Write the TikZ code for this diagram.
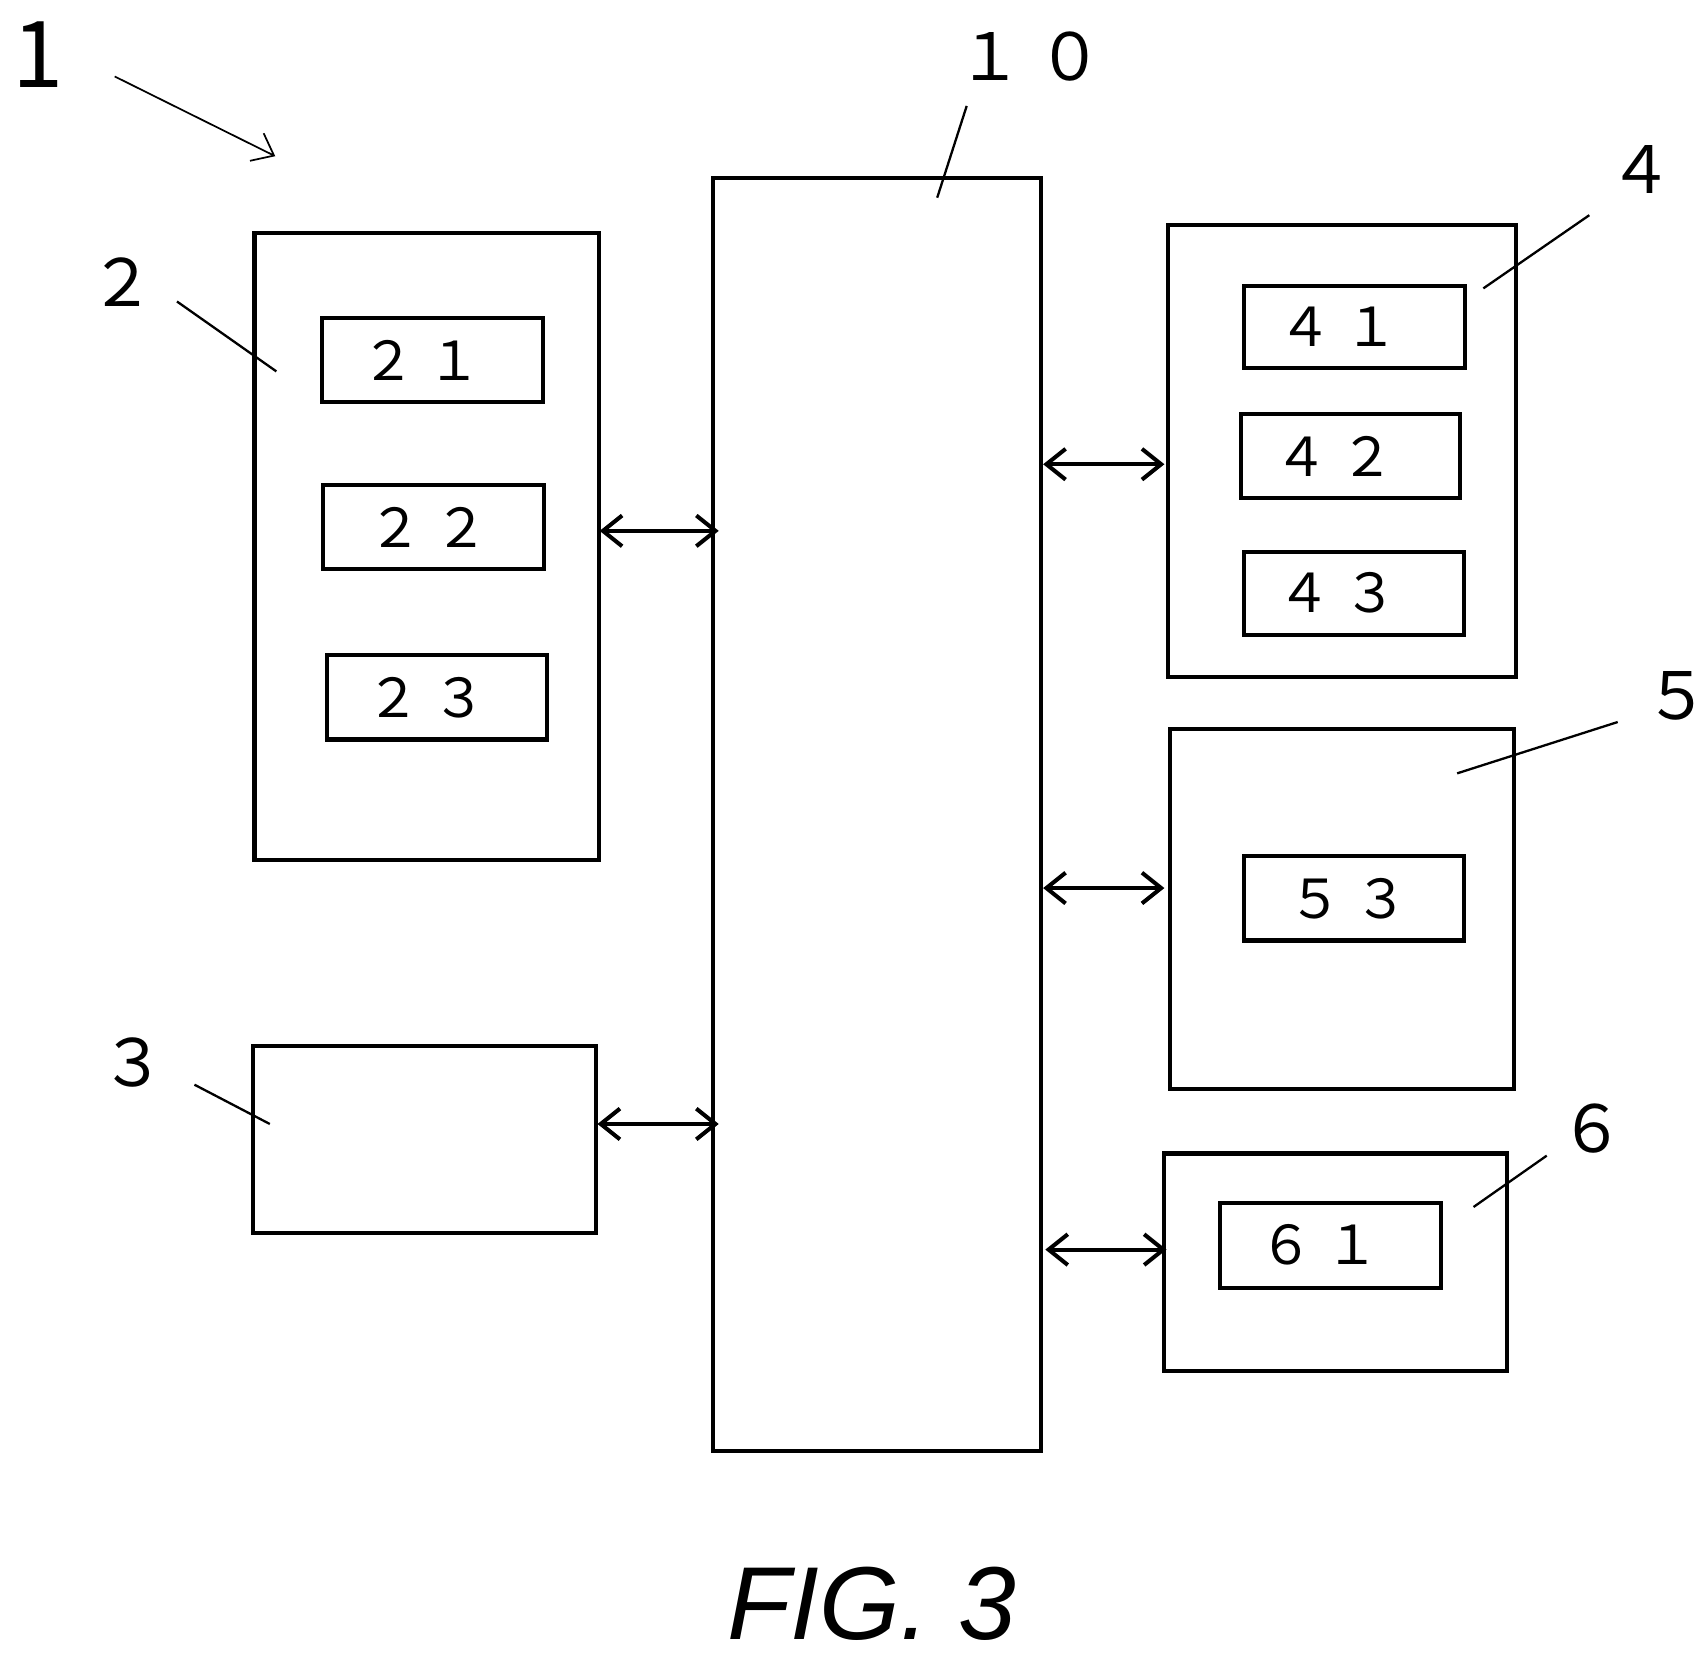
\documentclass[tikz,border=0pt]{standalone}
\usepackage{fontspec}
\setmainfont{Noto Sans CJK JP}
\newfontfamily\figfont{Liberation Sans}
\usetikzlibrary{arrows.meta}
\begin{document}
\begin{tikzpicture}[x=0.01cm,y=-0.01cm,
 box/.style={draw,line width=1.05pt},
 lbl/.style={font=\fontsize{14}{17}\selectfont},
 big/.style={font=\fontsize{17}{20}\selectfont},
 conn/.style={line width=1.05pt,{Straight Barb[length=5pt,width=8pt]}-{Straight Barb[length=5pt,width=8pt]}},
 lead/.style={line width=0.6pt}]
\useasboundingbox (0,0) rectangle (1560,1515);
\draw[box] (653,163) rectangle (953,1328);
\draw[box] (233,213) rectangle (548,787);
\draw[box] (295,291) rectangle node[lbl,xshift=-0.1cm]{２ １} (497,368);
\draw[box] (296,444) rectangle node[lbl,xshift=-0.05cm]{２ ２} (498,521);
\draw[box] (299,600) rectangle node[lbl,xshift=-0.1cm]{２ ３} (501,677);
\draw[box] (232,958) rectangle (546,1129);
\draw[box] (1069,206) rectangle (1388,620);
\draw[box] (1139,262) rectangle node[lbl,xshift=-0.15cm]{４ １} (1341,337);
\draw[box] (1136,379) rectangle node[lbl,xshift=-0.15cm]{４ ２} (1337,456);
\draw[box] (1139,505) rectangle node[lbl,xshift=-0.15cm]{４ ３} (1340,581);
\draw[box] (1071,667) rectangle (1386,997);
\draw[box] (1139,784) rectangle node[lbl,xshift=-0.05cm]{５ ３} (1340,861);
\draw[box] (1066,1056) rectangle (1380,1255);
\draw[box] (1117,1101) rectangle node[lbl,xshift=-0.1cm]{６ １} (1319,1179);
% connectors
\coordinate (a1) at (549,486); \coordinate (b1) at (658,486);
\coordinate (a2) at (547,1029); \coordinate (b2) at (658,1029);
\coordinate (a3) at (955,425); \coordinate (b3) at (1066,425);
\coordinate (a4) at (955,813); \coordinate (b4) at (1066,813);
\coordinate (a5) at (957,1144); \coordinate (b5) at (1068,1144);
\draw[conn] (a1) -- (b1);
\draw[conn] (a2) -- (b2);
\draw[conn] (a3) -- (b3);
\draw[conn] (a4) -- (b4);
\draw[conn] (a5) -- (b5);
% labels
\node[font=\fontsize{24}{28}\selectfont] (n1) at (35,50) {1};
\coordinate (p1a) at (105,70); \coordinate (p1b) at (252,143);
\draw[line width=0.45pt,-{Straight Barb[length=5pt,width=8pt]}] (p1a) -- (p1b);
\node[big] (n10) at (943,52) {１ ０};
\coordinate (p10a) at (885,97); \coordinate (p10b) at (858,181);
\draw[lead] (p10a) -- (p10b);
\node[big] (n2) at (112,258) {２};
\coordinate (p2a) at (162,276); \coordinate (p2b) at (253,340);
\draw[lead] (p2a) -- (p2b);
\node[big] (n3) at (122,973) {３};
\coordinate (p3a) at (178,993); \coordinate (p3b) at (247,1029);
\draw[lead] (p3a) -- (p3b);
\node[big] (n4) at (1502,155) {４};
\coordinate (p4a) at (1455,197); \coordinate (p4b) at (1358,264);
\draw[lead] (p4a) -- (p4b);
\node[big] (n5) at (1535,637) {５};
\coordinate (p5a) at (1481,661); \coordinate (p5b) at (1334,708);
\draw[lead] (p5a) -- (p5b);
\node[big] (n6) at (1458,1033) {６};
\coordinate (p6a) at (1416,1058); \coordinate (p6b) at (1349,1105);
\draw[lead] (p6a) -- (p6b);
\node[font=\figfont\itshape\fontsize{27}{32}\selectfont] (fig) at (798,1468) {FIG. 3};
\end{tikzpicture}
\end{document}
